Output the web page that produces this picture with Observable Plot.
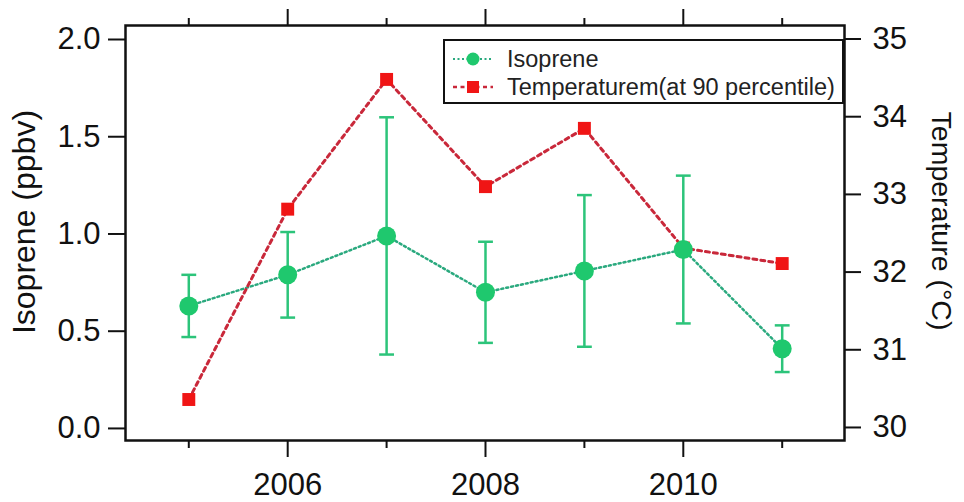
<!DOCTYPE html>
<html><head><meta charset="utf-8">
<script src="https://cdn.jsdelivr.net/npm/d3@7"></script>
<script src="https://cdn.jsdelivr.net/npm/@observablehq/plot@0.6"></script>
<style>
body{margin:0;background:#fff;font-family:"Liberation Sans",Arial,sans-serif;}
#wrap{position:relative;width:964px;height:502px;overflow:hidden;}
#legend{position:absolute;left:443px;top:39px;width:401px;height:65px;box-sizing:border-box;border:2px solid #111;background:#fff;}
#legend .lab{position:absolute;left:62px;font-size:23.5px;line-height:26px;color:#222;white-space:nowrap;}
#legend svg{position:absolute;left:0;top:0;}
.title{position:absolute;white-space:nowrap;line-height:1;color:#111;transform:translate(-50%,-50%) rotate(var(--r));}
</style></head><body><div id="wrap"></div>
<script>
const years = [2005, 2006, 2007, 2008, 2009, 2010, 2011];
const isoprene = [0.63, 0.79, 0.99, 0.70, 0.81, 0.92, 0.41];
const isoLow = [0.47, 0.57, 0.38, 0.44, 0.42, 0.54, 0.29];
const isoHigh = [0.79, 1.01, 1.60, 0.96, 1.20, 1.30, 0.53];
const temperature = [30.36, 32.81, 34.48, 33.10, 33.85, 32.31, 32.11];
const majorYears = [2006, 2008, 2010];
const minorYears = [2005, 2007, 2009, 2011];
const isoTicks = [0, 0.5, 1.0, 1.5, 2.0];
const tempTicks = [30, 31, 32, 33, 34, 35];
const seriesNames = ["Isoprene", "Temperaturem(at 90 percentile)"];
const yTitle = "Isoprene (ppbv)";
const y2Title = "Temperature (°C)";

// right axis (temperature) expressed on the left (isoprene) scale
const tempToV = t => 0.005 + (t - 30) * 0.3995;
const vToTemp = v => (v - 0.005) / 0.3995 + 30;

const iso = years.map((y, i) => ({year: y, v: isoprene[i], lo: isoLow[i], hi: isoHigh[i]}));
const tmp = years.map((y, i) => ({year: y, t: temperature[i], v: tempToV(temperature[i])}));

const green = "#1fc86e", greenBar = "#2cc47a", greenLine = "#2aa97e";
const red = "#f01515", redLine = "#c9283a";
const font = "'Liberation Sans', Arial, sans-serif";
const capW = 0.075;

const chart = Plot.plot({
  width: 964, height: 502,
  marginLeft: 125, marginRight: 120, marginTop: 25, marginBottom: 62,
  style: {fontFamily: font, background: "white", color: "#111"},
  x: {domain: [2004.36, 2011.63]},
  y: {domain: [-0.062, 2.072]},
  marks: [
    Plot.axisX({anchor: "bottom", ticks: majorYears, tickSize: 17, tickPadding: 15, fontSize: 31, tickFormat: d => String(d), label: null, strokeWidth: 2}),
    Plot.axisX({anchor: "bottom", ticks: minorYears, tickSize: 8, tickFormat: () => "", label: null, strokeWidth: 2}),
    Plot.axisX({anchor: "top", ticks: majorYears, tickSize: 17, tickFormat: () => "", label: null, strokeWidth: 2}),
    Plot.axisX({anchor: "top", ticks: minorYears, tickSize: 8, tickFormat: () => "", label: null, strokeWidth: 2}),
    Plot.axisY({anchor: "left", ticks: isoTicks, tickSize: 17, tickPadding: 8, fontSize: 31, tickFormat: d3.format(".1f"), label: null, strokeWidth: 2}),
    Plot.axisY({anchor: "right", ticks: tempTicks.map(tempToV), tickSize: 16, tickPadding: 12, fontSize: 31, tickFormat: v => String(Math.round(vToTemp(v))), label: null, strokeWidth: 2}),
    Plot.ruleX(iso, {x: "year", y1: "lo", y2: "hi", stroke: greenBar, strokeWidth: 2.5}),
    Plot.link(iso, {x1: d => d.year - capW, x2: d => d.year + capW, y1: "hi", y2: "hi", stroke: greenBar, strokeWidth: 2.5}),
    Plot.link(iso, {x1: d => d.year - capW, x2: d => d.year + capW, y1: "lo", y2: "lo", stroke: greenBar, strokeWidth: 2.5}),
    Plot.line(iso, {x: "year", y: "v", stroke: greenLine, strokeWidth: 2.5, strokeDasharray: "2,3"}),
    Plot.line(tmp, {x: "year", y: "v", stroke: redLine, strokeWidth: 3, strokeDasharray: "4,4"}),
    Plot.dot(tmp, {x: "year", y: "v", symbol: "square", r: 7.3, fill: red}),
    Plot.dot(iso, {x: "year", y: "v", r: 9.5, fill: green}),
    Plot.frame({stroke: "#111", strokeWidth: 2.5})
  ]
});
const wrap = document.getElementById("wrap");
wrap.appendChild(chart);
chart.style.position = "absolute";
chart.style.left = "0px";
chart.style.top = "0px";

function addTitle(text, cx, cy, size, rot) {
  const d = document.createElement("div");
  d.className = "title";
  d.textContent = text;
  d.style.left = cx + "px";
  d.style.top = cy + "px";
  d.style.fontSize = size + "px";
  d.style.setProperty("--r", rot + "deg");
  wrap.appendChild(d);
}
addTitle(yTitle, 24, 222, 32, -90);
addTitle(y2Title, 942, 221, 28.5, 90);

const legend = document.createElement("div");
legend.id = "legend";
legend.innerHTML = `
<svg width="60" height="62">
  <line x1="8" x2="48" y1="18" y2="18" stroke="${greenLine}" stroke-width="2.2" stroke-dasharray="2,2.5"/>
  <circle cx="28" cy="18" r="6.5" fill="${green}"/>
  <line x1="8" x2="48" y1="46" y2="46" stroke="${redLine}" stroke-width="2.5" stroke-dasharray="4,3.5"/>
  <rect x="22" y="40" width="12" height="12" fill="${red}"/>
</svg>
<div class="lab" style="top:5px">${seriesNames[0]}</div>
<div class="lab" style="top:33px">${seriesNames[1]}</div>`;
wrap.appendChild(legend);
</script></body></html>
